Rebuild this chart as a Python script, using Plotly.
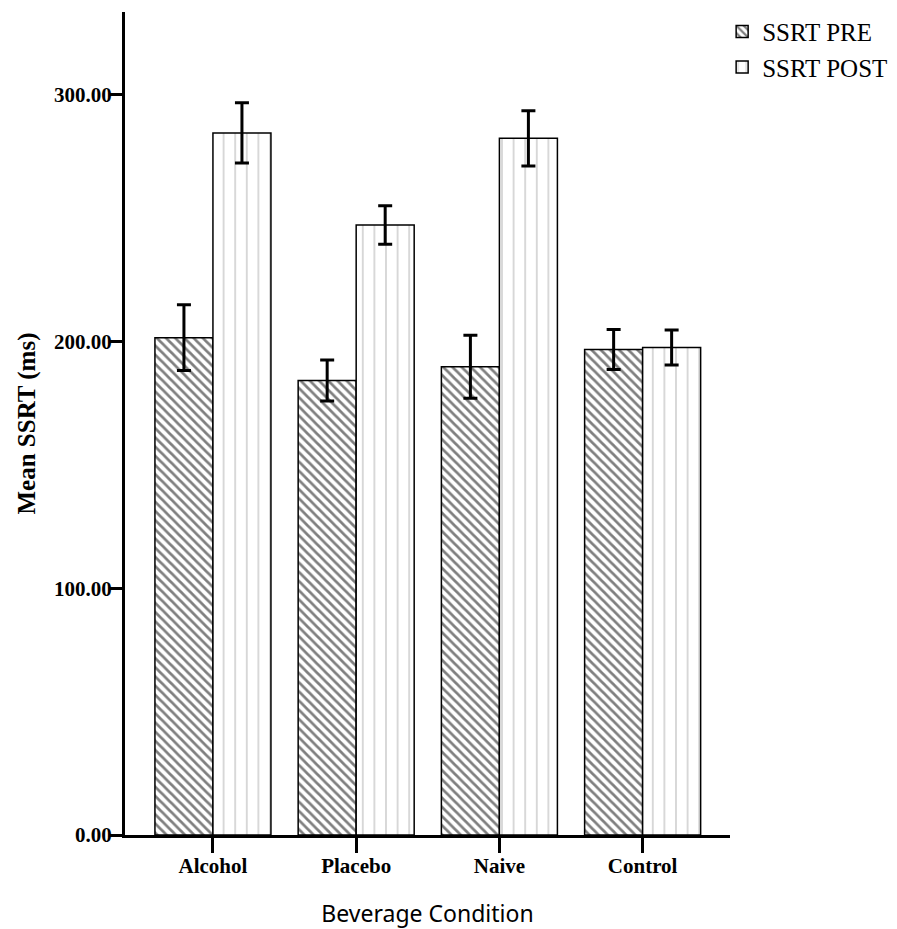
import plotly.graph_objects as go

categories = ["Alcohol", "Placebo", "Naive", "Control"]
pre_mean = [201.6, 184.2, 189.8, 196.8]
pre_err = [13.3, 8.3, 12.8, 8.1]
post_mean = [284.6, 247.3, 282.4, 197.6]
post_err = [12.2, 7.8, 11.2, 7.1]
series_names = ["SSRT PRE", "SSRT POST"]
y_ticks = [0, 100, 200, 300]

serif = "Liberation Serif, Times New Roman, serif"

fig = go.Figure()
fig.add_trace(go.Bar(
    name=series_names[0], x=categories, y=pre_mean,
    error_y=dict(type="data", array=pre_err, color="black", thickness=3, width=7),
    marker=dict(color="white", line=dict(color="black", width=1.5),
                pattern=dict(shape="\\", fgcolor="black", bgcolor="white", size=6.5, solidity=0.42)),
))
fig.add_trace(go.Bar(
    name=series_names[1], x=categories, y=post_mean,
    error_y=dict(type="data", array=post_err, color="black", thickness=3, width=7),
    marker=dict(color="white", line=dict(color="black", width=1.5),
                pattern=dict(shape="|", fgcolor="#7a7a7a", bgcolor="white", size=11.6, solidity=0.1)),
))

fig.update_layout(
    width=897, height=929,
    margin=dict(l=125, r=167, t=12, b=94, autoexpand=False),
    paper_bgcolor="white", plot_bgcolor="white",
    barmode="group", bargap=0.19, bargroupgap=0,
    showlegend=True,
    legend=dict(x=0.987, y=1.004, xanchor="left", yanchor="top",
                font=dict(family=serif, size=25, color="black"),
                bgcolor="rgba(0,0,0,0)", itemwidth=30, tracegroupgap=0),
    xaxis=dict(
        range=[-0.614, 3.61], showgrid=False, zeroline=False, automargin=False,
        showline=True, linecolor="black", linewidth=3,
        ticks="outside", ticklen=15, tickwidth=2.5, tickcolor="black",
        ticklabelstandoff=-5,
        tickfont=dict(family=serif, size=21, color="black", weight="bold"),
        title=dict(text="Beverage Condition", standoff=29,
                   font=dict(family="Noto Sans", size=23, color="black")),
    ),
    yaxis=dict(
        range=[0, 333.6], showgrid=False, zeroline=False, automargin=False,
        showline=True, linecolor="black", linewidth=3,
        tickvals=y_ticks, tickformat=".2f",
        ticks="outside", ticklen=12, tickwidth=2.5, tickcolor="black",
        ticklabelstandoff=-6,
        tickfont=dict(family=serif, size=21, color="black", weight="bold"),
        title=dict(text="Mean SSRT (ms)", standoff=12,
                   font=dict(family=serif, size=25, color="black", weight="bold")),
    ),
)

fig.write_html("out.html")
